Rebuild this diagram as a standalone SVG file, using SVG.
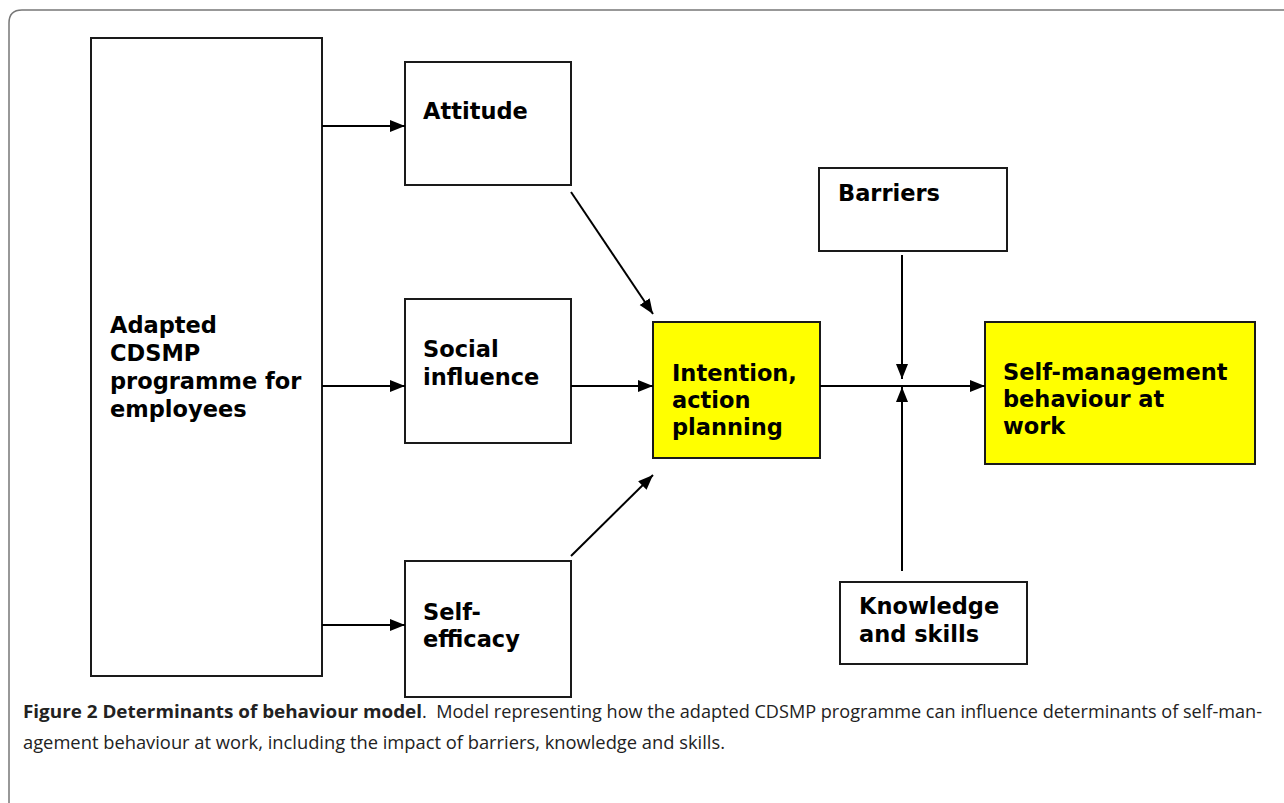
<svg xmlns="http://www.w3.org/2000/svg" width="1284" height="803" viewBox="0 0 1284 803">
<style>
.box{fill:#fff;stroke:#1a1a1a;stroke-width:2}
.hl{fill:#ffff00;stroke:#1a1a1a;stroke-width:2}
.lbl{font-family:"DejaVu Sans",Verdana,sans-serif;font-weight:bold;font-size:22.5px;fill:#000}
.con{stroke:#000;stroke-width:2;fill:none;marker-end:url(#ah)}
.cap{font-family:"Open Sans","Noto Sans",sans-serif;font-size:17.5px;fill:#222}
</style>
<defs>
<marker id="ah" markerUnits="userSpaceOnUse" markerWidth="16" markerHeight="14" refX="15" refY="6" orient="auto">
<path d="M0,0 L15,6 L0,12 z" fill="#000"/>
</marker>
</defs>
<rect width="1284" height="803" fill="#fff"/>
<path d="M9,803 L9,23 Q9,10 22,10 L1284,10" fill="none" stroke="#777" stroke-width="1.5"/>

<g id="programme">
<rect class="box" x="91" y="38" width="231" height="638"/>
<text class="lbl"><tspan x="110" y="333">Adapted</tspan><tspan x="110" y="361">CDSMP</tspan><tspan x="110" y="389">programme for</tspan><tspan x="110" y="417">employees</tspan></text>
</g>
<g id="attitude">
<rect class="box" x="405" y="62" width="166" height="123"/>
<text class="lbl" x="423" y="119">Attitude</text>
</g>
<g id="social">
<rect class="box" x="405" y="299" width="166" height="144"/>
<text class="lbl"><tspan x="423" y="357">Social</tspan><tspan x="423" y="385">influence</tspan></text>
</g>
<g id="selfefficacy">
<rect class="box" x="405" y="561" width="166" height="136"/>
<text class="lbl"><tspan x="423" y="620">Self-</tspan><tspan x="423" y="647">efficacy</tspan></text>
</g>
<g id="intention">
<rect class="hl" x="653" y="322" width="167" height="136"/>
<text class="lbl"><tspan x="672" y="381">Intention,</tspan><tspan x="672" y="408">action</tspan><tspan x="672" y="435">planning</tspan></text>
</g>
<g id="barriers">
<rect class="box" x="819" y="168" width="188" height="83"/>
<text class="lbl" x="838" y="201">Barriers</text>
</g>
<g id="knowledge">
<rect class="box" x="840" y="582" width="187" height="82"/>
<text class="lbl"><tspan x="859" y="614">Knowledge</tspan><tspan x="859" y="642">and skills</tspan></text>
</g>
<g id="selfmanagement">
<rect class="hl" x="985" y="322" width="270" height="142"/>
<text class="lbl"><tspan x="1003" y="380">Self-management</tspan><tspan x="1003" y="407">behaviour at</tspan><tspan x="1003" y="434">work</tspan></text>
</g>

<g id="connectors">
<path class="con" d="M322,126 L405,126"/>
<path class="con" d="M322,386 L405,386"/>
<path class="con" d="M322,625 L405,625"/>
<path class="con" d="M571,192 L653,314"/>
<path class="con" d="M571,386 L653,386"/>
<path class="con" d="M571,556 L653,475"/>
<path class="con" d="M820,386 L985,386"/>
<path class="con" d="M902,255 L902,379"/>
<path class="con" d="M902,571 L902,387"/>
</g>

<g id="caption">
<text class="cap" y="718"><tspan x="23" font-weight="bold" textLength="399" lengthAdjust="spacingAndGlyphs">Figure 2 Determinants of behaviour model</tspan><tspan x="422" textLength="840" lengthAdjust="spacingAndGlyphs">.&#160; Model representing how the adapted CDSMP programme can influence determinants of self-man-</tspan></text>
<text class="cap" x="23" y="749" textLength="702" lengthAdjust="spacingAndGlyphs">agement behaviour at work, including the impact of barriers, knowledge and skills.</text>
</g>
</svg>
